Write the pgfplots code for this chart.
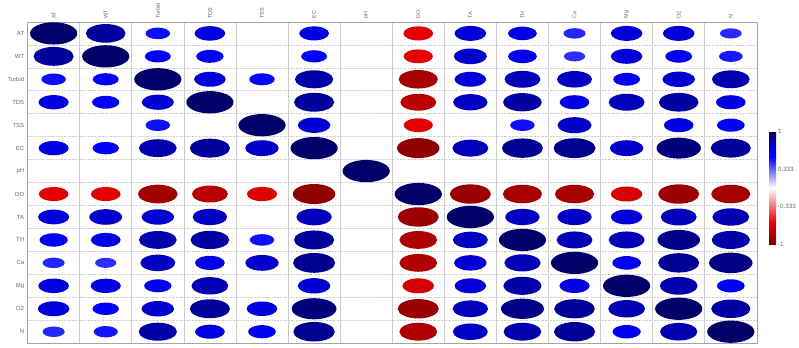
\documentclass[border=0pt]{standalone}
\usepackage{fontspec}
\setmainfont{Liberation Sans}
\usepackage{pgfplots}
\pgfplotsset{compat=1.18}
\usepackage{pgfplotstable}

\pgfdeclareplotmark{ell}{%
  \pgfpathellipse{\pgfpointorigin}{\pgfqpoint{2.12\pgfplotmarksize}{0pt}}{\pgfqpoint{0pt}{\pgfplotmarksize}}%
  \pgfusepathqfill}

\pgfplotstableread{
x y r
1 1 1
2 1 0.84
3 1 0.52
4 1 0.65
6 1 0.63
8 1 -0.63
9 1 0.67
10 1 0.61
11 1 0.47
12 1 0.67
13 1 0.67
14 1 0.46
1 2 0.85
2 2 1
3 2 0.55
4 2 0.58
6 2 0.55
8 2 -0.62
9 2 0.70
10 2 0.61
11 2 0.45
12 2 0.67
13 2 0.57
14 2 0.50
1 3 0.52
2 3 0.55
3 3 1
4 3 0.67
5 3 0.54
6 3 0.81
8 3 -0.83
9 3 0.67
10 3 0.76
11 3 0.74
12 3 0.57
13 3 0.69
14 3 0.80
1 4 0.64
2 4 0.58
3 4 0.68
4 4 1
6 4 0.85
8 4 -0.76
9 4 0.73
10 4 0.82
11 4 0.63
12 4 0.76
13 4 0.84
14 4 0.63
3 5 0.52
5 5 1
6 5 0.69
8 5 -0.62
10 5 0.52
11 5 0.72
13 5 0.63
14 5 0.59
1 6 0.64
2 6 0.56
3 6 0.80
4 6 0.85
5 6 0.71
6 6 1
8 6 -0.90
9 6 0.76
10 6 0.87
11 6 0.89
12 6 0.71
13 6 0.94
14 6 0.85
7 7 1
1 8 -0.63
2 8 -0.63
3 8 -0.84
4 8 -0.76
5 8 -0.64
6 8 -0.90
8 8 1
9 8 -0.87
10 8 -0.83
11 8 -0.83
12 8 -0.67
13 8 -0.87
14 8 -0.83
1 9 0.66
2 9 0.70
3 9 0.69
4 9 0.73
6 9 0.75
8 9 -0.87
9 9 1
10 9 0.73
11 9 0.73
12 9 0.67
13 9 0.76
14 9 0.78
1 10 0.60
2 10 0.63
3 10 0.80
4 10 0.82
5 10 0.52
6 10 0.85
8 10 -0.80
9 10 0.74
10 10 1
11 10 0.76
12 10 0.76
13 10 0.90
14 10 0.81
1 11 0.47
2 11 0.45
3 11 0.74
4 11 0.63
5 11 0.71
6 11 0.89
8 11 -0.80
9 11 0.69
10 11 0.77
11 11 1
12 11 0.61
13 11 0.87
14 11 0.92
1 12 0.65
2 12 0.64
3 12 0.58
4 12 0.78
6 12 0.69
8 12 -0.67
9 12 0.67
10 12 0.81
11 12 0.64
12 12 1
13 12 0.80
14 12 0.59
1 13 0.67
2 13 0.56
3 13 0.69
4 13 0.85
5 13 0.65
6 13 0.95
8 13 -0.87
9 13 0.75
10 13 0.91
11 13 0.86
12 13 0.78
13 13 1
14 13 0.83
1 14 0.47
2 14 0.51
3 14 0.81
4 14 0.63
5 14 0.59
6 14 0.88
8 14 -0.80
9 14 0.74
10 14 0.80
11 14 0.87
12 14 0.60
13 14 0.79
14 14 1
}\corr

\begin{document}
\begin{tikzpicture}
\begin{axis}[
  at={(0,0)}, anchor=south west,
  scale only axis, width=740pt, height=326pt,
  xmin=0.5, xmax=14.5, ymin=0.5, ymax=14.5,
  xtick={1,...,14}, ytick={1,...,14},
  xticklabels={AT,WT,Turbid,TDS,TSS,EC,pH,DO,TA,TH,Ca,Mg,O2,N},
  yticklabels={N,O2,Mg,Ca,TH,TA,DO,pH,EC,TSS,TDS,Turbid,WT,AT},
  xticklabel pos=right,
  xticklabel style={rotate=90, anchor=west, font=\fontsize{5.5}{6}\selectfont, text=gray!80!black},
  yticklabel style={font=\fontsize{6}{7}\selectfont, text=gray!80!black},
  major tick length=0pt, minor tick length=0pt,
  minor xtick={0.5,1.5,...,14.5}, minor ytick={0.5,1.5,...,14.5},
  xminorgrids, yminorgrids,
  minor x grid style={gray!40, line width=0.6pt},
  minor y grid style={gray!40, line width=0.6pt, densely dotted},
  axis line style={gray!70, line width=0.7pt},
  colormap={corr}{rgb255(0cm)=(115,0,0); rgb255(4cm)=(235,0,0); rgb255(10cm)=(255,255,255); rgb255(15.5cm)=(0,0,255); rgb255(20cm)=(0,0,105)},
  point meta min=-1, point meta max=1,
  colorbar,
  colorbar style={
    at={(parent axis.south east)}, anchor=south west, xshift=4pt, yshift=100pt,
    scale only axis, width=7pt, height=115pt,
    ytick={-1,-0.333,0.333,1}, yticklabels={-1,-0.333,0.333,1},
    yticklabel style={font=\fontsize{6.3}{7}\selectfont, text=gray!80!black, xshift=-1.5pt},
    major tick length=0pt,
    axis line style={draw=none},
  },
]
\addplot[scatter, only marks, mark=ell, scatter src=explicit,
  scatter/use mapped color={draw=mapped color, fill=mapped color},
  visualization depends on={abs(\thisrow{r})*11.3 \as \rad},
  scatter/@pre marker code/.append style={/tikz/mark size=\rad pt}]
  table[x=x, y expr=15-\thisrow{y}, meta=r]{\corr};
\end{axis}
\path[use as bounding box] (-28pt,-4pt) rectangle (771pt,347pt);
\end{tikzpicture}
\end{document}
